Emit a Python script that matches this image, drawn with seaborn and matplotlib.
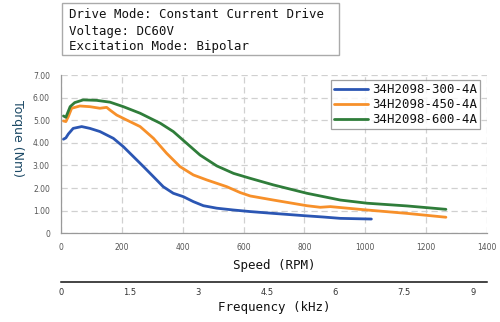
import matplotlib
matplotlib.use("Agg")
import matplotlib.pyplot as plt
from matplotlib.patches import Rectangle
import seaborn as sns
import pandas as pd

# ---- data ----
rpm_300 = [8, 16, 24, 40, 68, 95, 128, 172, 205, 238, 271, 304, 336, 369, 402, 435, 468, 512, 567, 622, 698, 808, 862, 918, 1020]
tq_300 = [4.16, 4.22, 4.39, 4.64, 4.72, 4.64, 4.50, 4.20, 3.83, 3.39, 2.95, 2.50, 2.06, 1.77, 1.62, 1.40, 1.22, 1.11, 1.03, 0.96, 0.88, 0.77, 0.72, 0.66, 0.63]

rpm_450 = [8, 16, 24, 35, 62, 95, 128, 150, 161, 183, 216, 260, 304, 347, 391, 435, 479, 545, 589, 622, 698, 808, 852, 885, 1006, 1137, 1265]
tq_450 = [4.97, 4.94, 5.16, 5.53, 5.63, 5.60, 5.53, 5.57, 5.45, 5.23, 5.01, 4.72, 4.20, 3.54, 2.95, 2.58, 2.36, 2.06, 1.80, 1.65, 1.47, 1.22, 1.15, 1.18, 1.03, 0.88, 0.71]

rpm_600 = [8, 16, 30, 45, 73, 117, 161, 205, 260, 326, 369, 413, 457, 512, 567, 622, 698, 808, 874, 918, 1006, 1137, 1265]
tq_600 = [5.19, 5.13, 5.60, 5.78, 5.90, 5.88, 5.80, 5.60, 5.31, 4.87, 4.50, 3.98, 3.46, 2.98, 2.65, 2.43, 2.14, 1.77, 1.59, 1.47, 1.33, 1.21, 1.06]

series_names = ["34H2098-300-4A", "34H2098-450-4A", "34H2098-600-4A"]
colors = ["#2b56b3", "#f7902a", "#2f7d3a"]

y_ticks = [0, 1, 2, 3, 4, 5, 6, 7]
y_labels = ["0", "1.00", "2.00", "3.00", "4.00", "5.00", "6.00", "7.00"]
x_ticks = [0, 200, 400, 600, 800, 1000, 1200, 1400]
f_ticks = [0, 1.5, 3, 4.5, 6, 7.5, 9]
f_labels = ["0", "1.5", "3", "4.5", "6", "7.5", "9"]

info_lines = ["Drive Mode: Constant Current Drive", "Voltage: DC60V", "Excitation Mode: Bipolar"]

df = pd.concat([
    pd.DataFrame({"rpm": rpm_300, "torque": tq_300, "model": series_names[0]}),
    pd.DataFrame({"rpm": rpm_450, "torque": tq_450, "model": series_names[1]}),
    pd.DataFrame({"rpm": rpm_600, "torque": tq_600, "model": series_names[2]}),
])

sns.set_theme(style="white")
plt.rcParams["font.family"] = ["DejaVu Sans"]

W, H = 500, 322
fig = plt.figure(figsize=(5, 3.22), dpi=100)
ax = fig.add_axes([0.122, 0.2755, 0.852, 0.4915])

sns.lineplot(data=df, x="rpm", y="torque", hue="model", palette=colors,
             linewidth=2.0, ax=ax, sort=False, estimator=None)

ax.set_xlim(0, 1400)
ax.set_ylim(0, 7)
ax.set_xticks(x_ticks)
ax.set_xticklabels([str(v) for v in x_ticks])
ax.set_yticks(y_ticks)
ax.set_yticklabels(y_labels)
ax.grid(True, color="#d0d0d0", linestyle=(0, (5, 3)), linewidth=0.9)
for s in ["top", "right"]:
    ax.spines[s].set_visible(False)
for s in ["left", "bottom"]:
    ax.spines[s].set_color("#999999")
    ax.spines[s].set_linewidth(0.9)
ax.tick_params(axis="x", direction="in", length=3, color="#999999", labelsize=5.5,
               labelcolor="#555555", pad=7)
ax.tick_params(axis="y", length=0, labelsize=5.5, labelcolor="#555555", pad=8)
ax.set_xlabel("Speed (RPM)", family="DejaVu Sans Mono", fontsize=9, color="#111111", labelpad=5)
ax.set_ylabel("")

leg = ax.legend(loc="upper right", bbox_to_anchor=(0.984, 0.968), borderaxespad=0,
                frameon=True, fancybox=False,
                prop={"family": "DejaVu Sans Mono", "size": 8.9}, handlelength=2.7,
                borderpad=0.25, labelspacing=0.15, handletextpad=0.35)
leg.get_frame().set_edgecolor("#888888")
leg.get_frame().set_linewidth(0.9)
for t in leg.get_texts():
    t.set_color("#111111")

fig.text(0.034, 0.57, "Torque (Nm)", rotation=-90, ha="center", va="center",
         fontsize=9, color="#1d4a66")

# frequency axis
ax2 = fig.add_axes([0.122, 0.124, 0.852, 0.0001])
ax2.set_xlim(0, 9.31)
ax2.set_ylim(0, 1)
ax2.set_yticks([])
ax2.set_xticks(f_ticks)
ax2.set_xticklabels(f_labels)
for s in ["top", "right", "left"]:
    ax2.spines[s].set_visible(False)
ax2.spines["bottom"].set_color("#111111")
ax2.spines["bottom"].set_linewidth(1.1)
ax2.set_facecolor("none")
ax2.tick_params(axis="x", direction="in", length=4, width=1.1, color="#111111",
                labelsize=6, labelcolor="#333333", pad=4)
ax2.set_xlabel("Frequency (kHz)", family="DejaVu Sans Mono", fontsize=9, color="#111111", labelpad=3)

# info box
fig.patches.append(Rectangle((62 / W, 1 - 55 / H), (339 - 62) / W, (55 - 3) / H,
                             transform=fig.transFigure, facecolor="white",
                             edgecolor="#aaaaaa", linewidth=1.0))
for yp, line in zip([15, 31, 46.5], info_lines):
    fig.text(69 / W, 1 - yp / H, line, family="DejaVu Sans Mono", fontsize=8.9,
             color="#111111", va="center", ha="left")

fig.savefig("out.png", dpi=100)
